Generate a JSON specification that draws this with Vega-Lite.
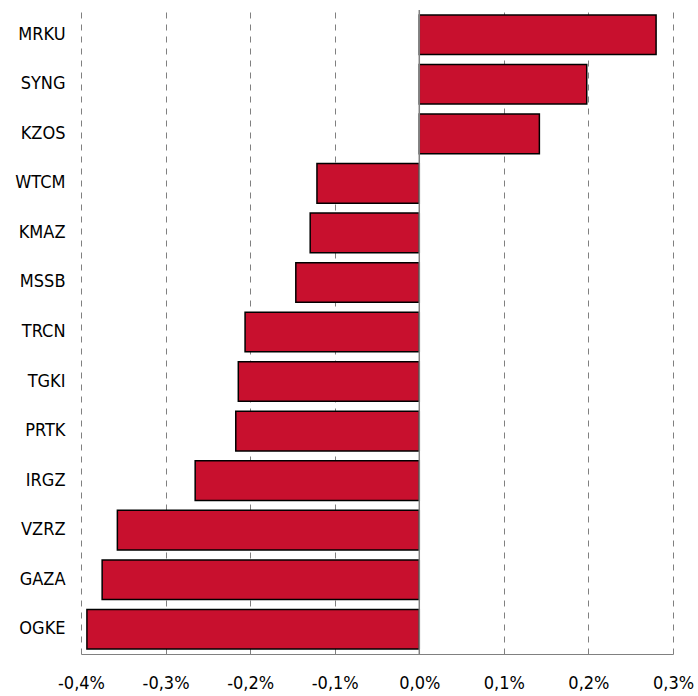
{
  "$schema": "https://vega.github.io/schema/vega-lite/v6.json",
  "autosize": "none",
  "width": 592,
  "height": 644,
  "padding": {"left": 81, "top": 10, "right": 25, "bottom": 42},
  "background": "white",
  "config": {"view": {"stroke": null}, "font": "DejaVu Sans Condensed"},
  "data": {"values": [
    {"ticker": "MRKU", "value": 0.280},
    {"ticker": "SYNG", "value": 0.198},
    {"ticker": "KZOS", "value": 0.142},
    {"ticker": "WTCM", "value": -0.121},
    {"ticker": "KMAZ", "value": -0.129},
    {"ticker": "MSSB", "value": -0.146},
    {"ticker": "TRCN", "value": -0.206},
    {"ticker": "TGKI", "value": -0.214},
    {"ticker": "PRTK", "value": -0.217},
    {"ticker": "IRGZ", "value": -0.265},
    {"ticker": "VZRZ", "value": -0.357},
    {"ticker": "GAZA", "value": -0.375},
    {"ticker": "OGKE", "value": -0.393}
  ]},
  "layer": [
    {
      "mark": {"type": "bar", "color": "#C8102E", "stroke": "#000000", "strokeWidth": 1.5},
      "encoding": {
        "y": {"field": "ticker", "type": "nominal", "sort": null,
          "scale": {"paddingInner": 0.2, "paddingOuter": 0.1},
          "axis": {"title": null, "ticks": false, "domain": false, "grid": false,
            "labelFontSize": 18, "labelColor": "#000000", "labelPadding": 16, "labelFont": "DejaVu Sans Condensed"}},
        "x": {"field": "value", "type": "quantitative",
          "scale": {"domain": [-0.4, 0.3], "nice": false, "zero": false},
          "axis": {"title": null, "values": [-0.4, -0.3, -0.2, -0.1, 0, 0.1, 0.2, 0.3],
            "labelExpr": "replace(replace(format(datum.value, '.1f'), '.', ','), '\u2212', '-') + '%'",
            "grid": true, "gridColor": "#808080", "gridDash": [6, 6], "gridWidth": 1,
            "domain": true, "domainColor": "#808080", "domainWidth": 1,
            "ticks": false, "labelFontSize": 18, "labelColor": "#000000", "labelPadding": 20,
            "labelFont": "DejaVu Sans Condensed", "labelFlush": false}}
      }
    },
    {
      "data": {"values": [{"z": 0}]},
      "mark": {"type": "rule", "color": "#808080", "strokeWidth": 1.5},
      "encoding": {"x": {"field": "z", "type": "quantitative"}}
    }
  ]
}
